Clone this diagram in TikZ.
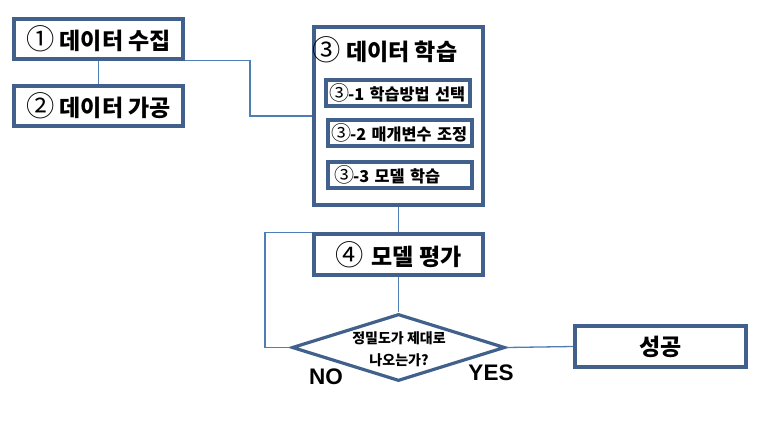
\documentclass[tikz,border=0pt]{standalone}
\usepackage{fontspec}
\setmainfont{Noto Sans CJK KR}
\newfontfamily\latein{Liberation Sans}
\newfontfamily\kreis[Scale=1.23]{Noto Sans CJK KR}
\newcommand\kr[1]{{\mdseries\kreis #1}}
\usepackage{tikz}
\usetikzlibrary{shapes.geometric}

\definecolor{rand}{HTML}{41618C}
\definecolor{linie}{HTML}{4F7DB5}

\begin{document}
\begin{tikzpicture}[x=1pt,y=-1pt]
\tikzstyle{kasten} = [draw=rand, line width=3.6pt, inner sep=0pt, minimum width=169pt, minimum height=40pt, font=\bfseries\fontsize{23}{26}\selectfont]
\tikzstyle{unterkasten} = [draw=rand, line width=3.2pt, inner xsep=3pt, inner ysep=0pt, text width=138pt, align=left, minimum height=26pt, font=\bfseries\fontsize{16.3}{19}\selectfont]
\tikzstyle{raute} = [draw=rand, line width=3.2pt, diamond, inner sep=0pt, minimum width=213pt, minimum height=67pt]
\tikzstyle{pfad} = [draw=linie, line width=1.3pt]
%\tikzstyle{pfad} = [draw=linie, line width=1.3pt, ->]
\useasboundingbox (0,0) rectangle (771,436);

\node[kasten] (sammeln) at (98.5,39) {\kr{①} 데이터 수집};
\node[kasten] (aufbereiten) at (98.5,106) {\kr{②} 데이터 가공};
\node[kasten, minimum height=178pt] (lernen) at (398.5,116) {};
\node[font=\bfseries\fontsize{23}{26}\selectfont] (lerntitel) at (385,50) {\kr{③} 데이터 학습};
\node[unterkasten] (methode) at (398,93) {\kr{③}\hspace{-1pt}-1 학습방법 선택};
\node[unterkasten] (parameter) at (400,133) {\kr{③}\hspace{-1pt}-2 매개변수 조정};
\node[unterkasten] (modell) at (400,175) {\hspace{3pt}\kr{③}\hspace{-1pt}-3 모델 학습};
\node[kasten, minimum height=41pt] (bewerten) at (398.5,254.5) {\kr{④}\hspace{3pt} 모델 평가\hspace{10pt}};
\node[raute] (frage) at (398.5,347.5) {};
\node[font=\bfseries\fontsize{14}{22}\selectfont, align=center] (fragetext) at (399,349) {정밀도가 제대로\\나오는가?};
\node[kasten, minimum width=171pt, minimum height=41pt] (erfolg) at (660.5,346.5) {성공\hspace{14pt}};
\node[font=\latein\bfseries\fontsize{22.5}{24}\selectfont] (nein) at (326,377) {NO};
\node[font=\latein\bfseries\fontsize{22.5}{24}\selectfont] (ja) at (491,373) {YES};

\coordinate (knick1) at (250,116);
\coordinate (knick2) at (265,347.5);

\draw[pfad] (sammeln.south) -- (aufbereiten.north);
\draw[pfad] (sammeln.south east) -| (knick1) -- (lernen.west);
\draw[pfad] (lernen.south) -- (bewerten.north);
\draw[pfad] (bewerten.south) -- (frage.north);
\draw[pfad] (frage.west) -- (knick2) |- (bewerten.north west);
\draw[pfad] (frage.east) -- (erfolg.west);
\end{tikzpicture}
\end{document}
